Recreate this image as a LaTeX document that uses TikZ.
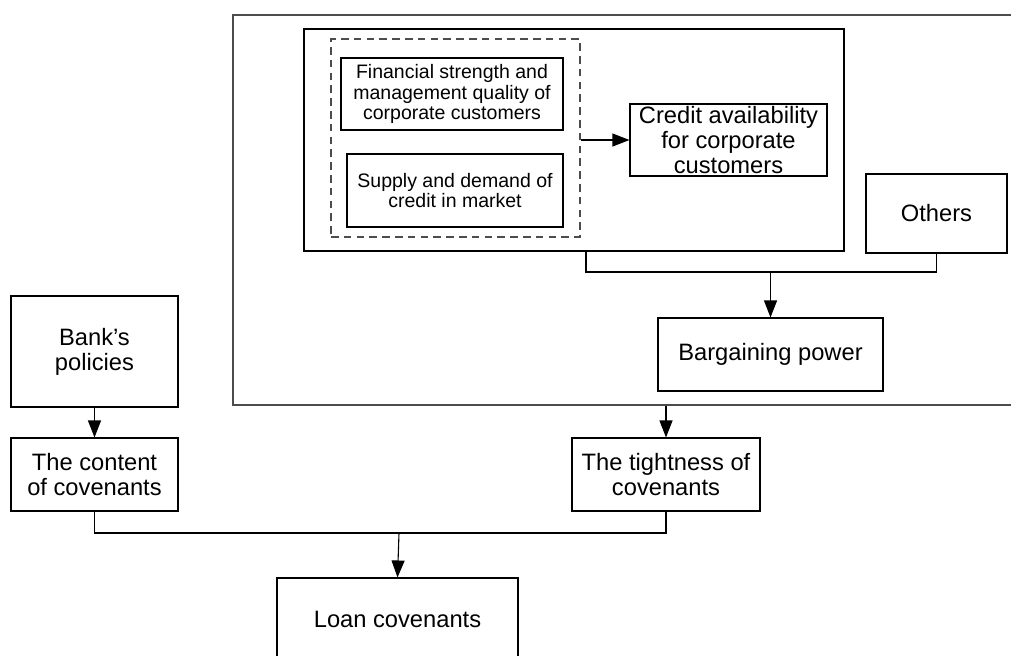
\documentclass[tikz,border=0pt]{standalone}
\usepackage{fontspec}
\setmainfont{Liberation Sans}
\usetikzlibrary{arrows.meta}
\newcommand\bigtxt{\fontsize{11.85pt}{12.5pt}\selectfont}
\newcommand\smalltxt{\fontsize{9.75pt}{10.3pt}\selectfont}
\begin{document}
\begin{tikzpicture}[x=0.5pt,y=-0.5pt,
  box/.style={draw=black,line width=0.55pt,align=center,inner sep=0pt,font=\bigtxt},
  smallbox/.style={box,font=\smalltxt},
  frame/.style={draw=black!70,line width=0.75pt,inner sep=0pt},
  dashframe/.style={draw=black!70,line width=0.6pt,dash pattern=on 3.8pt off 2.6pt,inner sep=0pt},
  link/.style={draw=black,line width=0.55pt},
  arr/.style={link,-{Triangle[length=8.5pt,width=6.5pt]}}]
\clip (0,0) rectangle (1011,655);

% containers
\node[frame,minimum width=398.5pt,minimum height=195pt] (outer) at (631.5,210) {};
\node[box,minimum width=270pt,minimum height=111pt] (inner) at (574,140) {};
\node[dashframe,minimum width=124.5pt,minimum height=99pt] (dash) at (455.5,138) {};

% factor boxes
\node[smallbox,minimum width=111pt,minimum height=36pt] (fin) at (452,94)
  {Financial strength and\\management quality of\\corporate customers};
\node[smallbox,minimum width=108pt,minimum height=36.5pt] (sup) at (455,190.5)
  {Supply and demand of\\credit in market};
\node[box,minimum width=98.5pt,minimum height=36pt] (credit) at (728.5,140)
  {Credit availability\\for corporate\\customers};
\node[box,minimum width=70.5pt,minimum height=39.5pt] (others) at (936.5,213.5) {Others};
\node[box,minimum width=112.5pt,minimum height=36.5pt] (bargain) at (770.5,354.5) {Bargaining power};
\node[box,minimum width=83.5pt,minimum height=55.5pt] (bank) at (94.5,351.5) {Bank’s\\policies};
\node[box,minimum width=83.5pt,minimum height=36.5pt] (content) at (94.5,474.5) {The content\\of covenants};
\node[box,minimum width=94pt,minimum height=36.5pt] (tight) at (666,474.5) {The tightness of\\covenants};
\node[box,minimum width=120.5pt,minimum height=41pt] (loan) at (397.5,619) {Loan covenants};

% junction points
\coordinate (jl) at (586,272);
\coordinate (jb) at (399,533);

% connectors
\draw[arr] (dash.east |- credit.west) -- (credit.west);
\draw[link] (jl |- inner.south) -- (jl) -| (others.south);
\draw[arr] (bargain.north |- jl) -- (bargain.north);
\draw[arr] (tight.north |- outer.south) -- (tight.north);
\draw[arr] (bank.south) -- (content.north);
\draw[link] (content.south) |- (jb) -| (tight.south);
\draw[arr] (jb) -- (loan.north);
\end{tikzpicture}
\end{document}
